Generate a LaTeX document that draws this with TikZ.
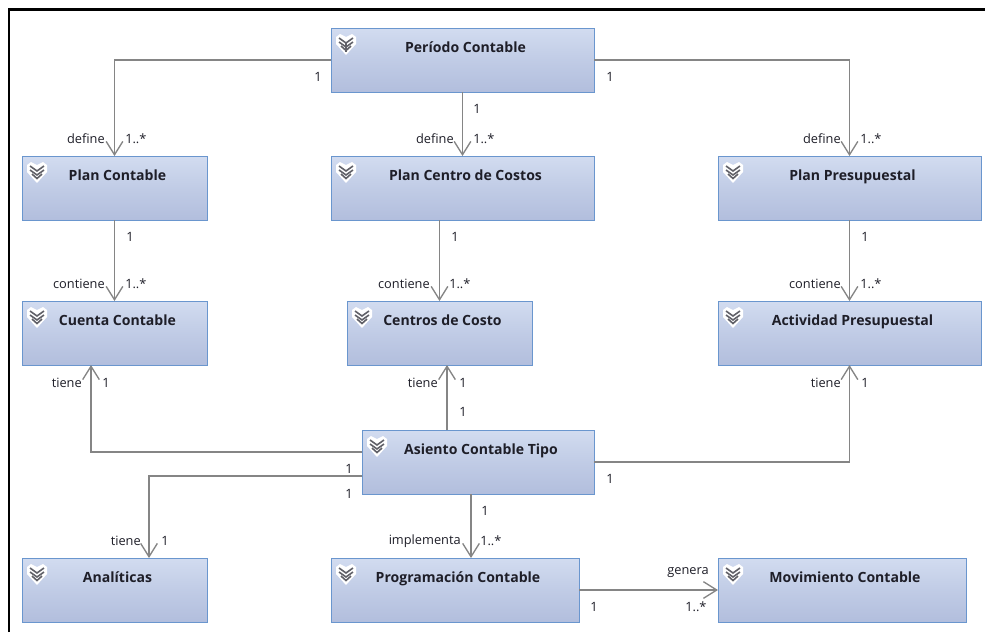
\documentclass[tikz,border=0pt]{standalone}
\usepackage{fontspec}
\setmainfont{Open Sans}
\usetikzlibrary{arrows.meta}
\definecolor{boxtop}{HTML}{D2DCF0}
\definecolor{boxbot}{HTML}{B2BEDD}
\definecolor{boxedge}{HTML}{6A96CE}
\definecolor{connc}{HTML}{858585}
\definecolor{ink}{HTML}{1E1E28}
\tikzset{
  x=0.75pt,y=-0.75pt,
  boxnode/.style={draw=boxedge,line width=0.75pt,top color=boxtop,bottom color=boxbot,middle color=boxtop!45!boxbot,anchor=north west,inner sep=0pt,outer sep=0pt},
  titletext/.style={font=\fontsize{10.55pt}{12pt}\selectfont\bfseries,text=ink,inner sep=0pt,anchor=base},
  conn/.style={draw=connc,line width=1pt},
  arr/.style={conn,-{Straight Barb[length=10pt,width=12.5pt,line width=1pt]}},
  lab/.style={font=\fontsize{9.6pt}{11pt}\selectfont,text=ink,inner sep=0pt},
  chev/.style={draw=ink!70,line width=1.2pt},
}
% name, x1, y1, x2, y2, title
\newcommand{\umlbox}[6]{%
  \pgfmathsetmacro{\bw}{(#4-#2)*0.75}%
  \pgfmathsetmacro{\bh}{(#5-#3)*0.75}%
  \node[boxnode,minimum width=\bw pt,minimum height=\bh pt] (#1) at (#2,#3) {};
  \begin{scope}[shift={(#2,#3)}]
    \fill[white] (5,9) -- (9,6) -- (15,9) -- (21,6) -- (25,9) -- (25,16) -- (15,27) -- (5,16) -- cycle;
    \draw[chev] (8,10) -- (15,15) -- (22,10);
    \draw[chev] (8,14) -- (15,19) -- (22,14);
    \draw[chev] (10,18) -- (15,22.5) -- (20,18);
  \end{scope}
  \node[titletext] (#1t) at ({(#2+#4)/2+3},{#3+24}) {#6};
}
\begin{document}
\begin{tikzpicture}
\useasboundingbox (0,0) rectangle (985,632);
\fill[white] (0,0) rectangle (985,632);
\draw[black,line width=2.1pt] (9,632) -- (9,9.5) -- (985,9.5);

\umlbox{per}{331}{28}{594}{92}{Período Contable}
\draw[chev,shift={(331,28)}] (15,15) -- (15,24);
\umlbox{pc}{22}{156}{207}{220}{Plan Contable}
\umlbox{pcc}{331}{156}{594}{220}{Plan Centro de Costos}
\umlbox{pp}{718}{156}{981}{220}{Plan Presupuestal}
\umlbox{cu}{22}{301}{207}{365}{Cuenta Contable}
\umlbox{cc}{347}{301}{532}{365}{Centros de Costo}
\umlbox{ac}{718}{301}{981}{365}{Actividad Presupuestal}
\umlbox{as}{362}{430}{594}{494}{Asiento Contable Tipo}
\umlbox{an}{22}{558}{207}{622}{Analíticas}
\umlbox{pr}{331}{558}{579}{622}{Programación Contable}
\umlbox{mo}{718}{558}{966}{622}{Movimiento Contable}

% connectors
\draw[arr] (per.west) -| (pc.north);
\draw[arr] (per.east) -| (pp.north);
\draw[arr] (per.south) -- (pcc.north -| per.south);
\draw[arr] (pc.south) -- (cu.north);
\draw[arr] (pcc.south -| cc.north) -- (cc.north);
\draw[arr] (pp.south) -- (ac.north);
\coordinate (upc) at (447,430);
\coordinate (upl) at (362,452);
\coordinate (upr) at (594,462);
\coordinate (lowl) at (362,476);
\coordinate (lowd) at (471,494);
\coordinate (lcu) at (91,365);
\coordinate (lan) at (149,558);
\coordinate (prr) at (579,590);
\draw[arr] (as.north -| upc) -- (cc.south -| upc);
\draw[arr] (as.west |- upl) -| (cu.south -| lcu);
\draw[arr] (as.east |- upr) -| (ac.south);
\draw[arr] (as.west |- lowl) -| (an.north -| lan);
\draw[arr] (as.south -| lowd) -- (pr.north -| lowd);
\draw[arr] (pr.east |- prr) -- (mo.west |- prr);

% labels
\node[lab] (l1) at (318,77) {1};
\node[lab] (l2) at (610,77) {1};
\node[lab] (l3) at (477,109) {1};
\node[lab,anchor=east] (l4) at (105,139) {define};
\node[lab,anchor=west] (l5) at (125,139) {1..*};
\node[lab,anchor=east] (l6) at (454,139) {define};
\node[lab,anchor=west] (l7) at (473,139) {1..*};
\node[lab,anchor=east] (l8) at (841,139) {define};
\node[lab,anchor=west] (l9) at (860,139) {1..*};
\node[lab] (l10) at (130,237) {1};
\node[lab] (l11) at (455,237) {1};
\node[lab] (l12) at (865,237) {1};
\node[lab,anchor=east] (l13) at (105,284) {contiene};
\node[lab,anchor=west] (l14) at (125,284) {1..*};
\node[lab,anchor=east] (l15) at (430,284) {contiene};
\node[lab,anchor=west] (l16) at (449,284) {1..*};
\node[lab,anchor=east] (l17) at (841,284) {contiene};
\node[lab,anchor=west] (l18) at (860,284) {1..*};
\node[lab,anchor=east] (l19) at (82,383) {tiene};
\node[lab] (l20) at (106,383) {1};
\node[lab,anchor=east] (l21) at (438,383) {tiene};
\node[lab] (l22) at (463,383) {1};
\node[lab] (l23) at (463,412) {1};
\node[lab,anchor=east] (l24) at (841,383) {tiene};
\node[lab] (l25) at (865,383) {1};
\node[lab] (l26) at (349,469) {1};
\node[lab] (l27) at (349,494) {1};
\node[lab] (l28) at (610,479) {1};
\node[lab] (l29) at (485,511) {1};
\node[lab,anchor=east] (l30) at (141,541) {tiene};
\node[lab] (l31) at (165,541) {1};
\node[lab,anchor=east] (l32) at (461,541) {implementa};
\node[lab,anchor=west] (l33) at (480,541) {1..*};
\node[lab,anchor=east] (l34) at (709,573) {genera};
\node[lab] (l35) at (594,607) {1};
\node[lab,anchor=west] (l36) at (685,607) {1..*};
\end{tikzpicture}
\end{document}
